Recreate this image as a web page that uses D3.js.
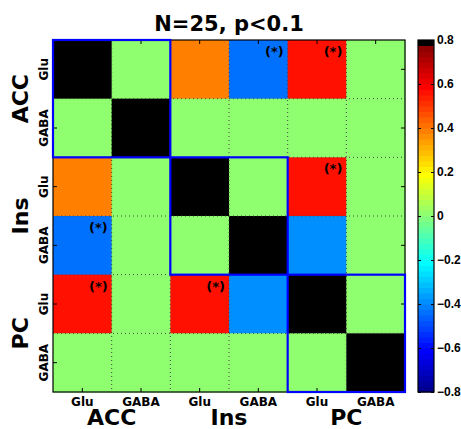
<!DOCTYPE html>
<html>
<head>
<meta charset="utf-8">
<script src="https://cdn.jsdelivr.net/npm/d3@7"></script>
<style>
  body { margin: 0; background: #fff; }
  text { font-family: "DejaVu Sans", sans-serif; font-weight: bold; fill: #000; }
</style>
</head>
<body>
<div id="vis"></div>
<script>
// frame constants
const FRAME_WIDTH = 461;
const FRAME_HEIGHT = 429;
const PLOT = {left: 53, right: 405, top: 40, bottom: 392};
const CBAR = {left: 418, right: 434};

// data
const groups = ["ACC", "Ins", "PC"];
const metabolites = ["Glu", "GABA"];
const rowLabels = ["Glu", "GABA", "Glu", "GABA", "Glu", "GABA"];
const keys = ["ACC Glu", "ACC GABA", "Ins Glu", "Ins GABA", "PC Glu", "PC GABA"];
// correlations, non significant values shown as 0
const corr = [
  [1,     0, 0.38, -0.44, 0.56,  0],
  [0,     1, 0,     0,    0,     0],
  [0.38,  0, 1,     0,    0.56,  0],
  [-0.44, 0, 0,     1,   -0.39,  0],
  [0.56,  0, 0.56, -0.39, 1,     0],
  [0,     0, 0,     0,    0,     1]
];
// cells flagged with (*)  [row, col]
const stars = [[0, 3], [0, 4], [2, 4], [3, 0], [4, 0], [4, 2]];
const cbarTicks = [-0.8, -0.6, -0.4, -0.2, 0, 0.2, 0.4, 0.6, 0.8];
const cLim = [-0.8, 0.8];

// jet(64) colormap with black on top
function u(j) {
  if (j < 1 || j > 47) return 0;
  if (j <= 16) return j / 16;
  if (j <= 31) return 1;
  return (48 - j) / 16;
}
const NCOL = 64;
const cmap = d3.range(1, NCOL + 1).map((k) => {
  if (k === NCOL) return "rgb(0,0,0)";
  return d3.rgb(255 * u(k - 24), 255 * u(k - 8), 255 * u(k + 8)).toString();
});
function colorOf(v) {
  let i = Math.floor((v - cLim[0]) / (cLim[1] - cLim[0]) * NCOL);
  i = Math.max(0, Math.min(NCOL - 1, i));
  return cmap[i];
}

const svg = d3.select("#vis").append("svg")
  .attr("width", FRAME_WIDTH)
  .attr("height", FRAME_HEIGHT);

const X = d3.scaleBand().domain(keys).range([PLOT.left, PLOT.right]);
const Y = d3.scaleBand().domain(keys).range([PLOT.top, PLOT.bottom]);
const bw = X.bandwidth();

// cells
const cells = [];
corr.forEach((row, i) => row.forEach((v, j) => cells.push({r: i, c: j, v: v})));
svg.append("g").selectAll("rect")
  .data(cells)
  .enter()
  .append("rect")
    .attr("x", (d) => X(keys[d.c]))
    .attr("y", (d) => Y(keys[d.r]))
    .attr("width", bw + 0.5)
    .attr("height", Y.bandwidth() + 0.5)
    .attr("fill", (d) => colorOf(d.v));

// dotted grid at cell borders
const grid = svg.append("g")
  .attr("stroke", "#444")
  .attr("stroke-width", 1)
  .attr("stroke-dasharray", "1,3");
d3.range(1, keys.length).forEach((k) => {
  const gx = X(keys[k]);
  const gy = Y(keys[k]);
  grid.append("line").attr("x1", gx).attr("x2", gx).attr("y1", PLOT.top).attr("y2", PLOT.bottom);
  grid.append("line").attr("x1", PLOT.left).attr("x2", PLOT.right).attr("y1", gy).attr("y2", gy);
});

// stars
svg.append("g").selectAll("text")
  .data(stars)
  .enter()
  .append("text")
    .attr("x", (d) => X(keys[d[1]]) + bw - 4)
    .attr("y", (d) => Y(keys[d[0]]) + 16)
    .attr("text-anchor", "end")
    .attr("font-size", "13px")
    .text("(*)");

// axes with inward ticks
svg.append("g")
  .attr("transform", "translate(0," + PLOT.bottom + ")")
  .call(d3.axisBottom(X).tickSize(-4).tickPadding(5).tickFormat((d) => d.split(" ")[1]))
  .call((g) => g.select(".domain").remove())
  .selectAll("text")
    .attr("font-size", "12px");
svg.append("g")
  .attr("transform", "translate(0," + PLOT.top + ")")
  .call(d3.axisTop(X).tickSize(-4).tickFormat(""))
  .call((g) => g.select(".domain").remove());
svg.append("g")
  .attr("transform", "translate(" + PLOT.left + ",0)")
  .call(d3.axisLeft(Y).tickSize(-4).tickFormat(""))
  .call((g) => g.select(".domain").remove());
svg.append("g")
  .attr("transform", "translate(" + PLOT.right + ",0)")
  .call(d3.axisRight(Y).tickSize(-4).tickFormat(""))
  .call((g) => g.select(".domain").remove());

// rotated row labels
svg.append("g").selectAll("text")
  .data(rowLabels)
  .enter()
  .append("text")
    .attr("transform", (d, i) => "translate(48," + (Y(keys[i]) + Y.bandwidth() / 2) + ") rotate(-90)")
    .attr("text-anchor", "middle")
    .attr("font-size", "12px")
    .text((d) => d);

// group labels
const groupBand = 2 * bw;
svg.append("g").selectAll("text")
  .data(groups)
  .enter()
  .append("text")
    .attr("x", (d, i) => PLOT.left + groupBand * (i + 0.5))
    .attr("y", 425)
    .attr("text-anchor", "middle")
    .attr("font-size", "22px")
    .text((d) => d);
svg.append("g").selectAll("text")
  .data(groups)
  .enter()
  .append("text")
    .attr("transform", (d, i) => "translate(28," + (PLOT.top + groupBand * (i + 0.5)) + ") rotate(-90)")
    .attr("text-anchor", "middle")
    .attr("font-size", "22px")
    .text((d) => d);

// plot border
svg.append("rect")
  .attr("x", PLOT.left).attr("y", PLOT.top)
  .attr("width", PLOT.right - PLOT.left).attr("height", PLOT.bottom - PLOT.top)
  .attr("fill", "none").attr("stroke", "#000").attr("stroke-width", 1.2);

// blue boxes around diagonal blocks
svg.append("g").selectAll("rect")
  .data(groups)
  .enter()
  .append("rect")
    .attr("x", (d, i) => X(keys[2 * i]))
    .attr("y", (d, i) => Y(keys[2 * i]))
    .attr("width", groupBand)
    .attr("height", groupBand)
    .attr("fill", "none")
    .attr("stroke", "#0000ff")
    .attr("stroke-width", 2.2);

// title
svg.append("text")
  .attr("x", (PLOT.left + PLOT.right) / 2)
  .attr("y", 31)
  .attr("text-anchor", "middle")
  .attr("font-size", "21px")
  .text("N=25, p<0.1");

// colorbar
const C = d3.scaleLinear().domain(cLim).range([PLOT.bottom, PLOT.top]);
const step = (cLim[1] - cLim[0]) / NCOL;
svg.append("g").selectAll("rect")
  .data(cmap)
  .enter()
  .append("rect")
    .attr("x", CBAR.left)
    .attr("y", (d, i) => C(cLim[0] + (i + 1) * step))
    .attr("width", CBAR.right - CBAR.left)
    .attr("height", C(cLim[0]) - C(cLim[0] + step) + 0.5)
    .attr("fill", (d) => d);
svg.append("rect")
  .attr("x", CBAR.left).attr("y", PLOT.top)
  .attr("width", CBAR.right - CBAR.left).attr("height", PLOT.bottom - PLOT.top)
  .attr("fill", "none").attr("stroke", "#000").attr("stroke-width", 1.2);
svg.append("g")
  .attr("transform", "translate(" + CBAR.left + ",0)")
  .call(d3.axisLeft(C).tickValues(cbarTicks).tickSize(-3).tickFormat(""))
  .call((g) => g.select(".domain").remove());
svg.append("g")
  .attr("transform", "translate(" + CBAR.right + ",0)")
  .call(d3.axisRight(C).tickValues(cbarTicks).tickSize(-3).tickPadding(3).tickFormat((d) => d === 0 ? "0" : d3.format(".1f")(d).replace("-", "\u2013")))
  .call((g) => g.select(".domain").remove())
  .selectAll("text")
    .style("font-family", "'Liberation Sans', Arial, sans-serif")
    .style("font-size", "12px");
</script>
</body>
</html>
